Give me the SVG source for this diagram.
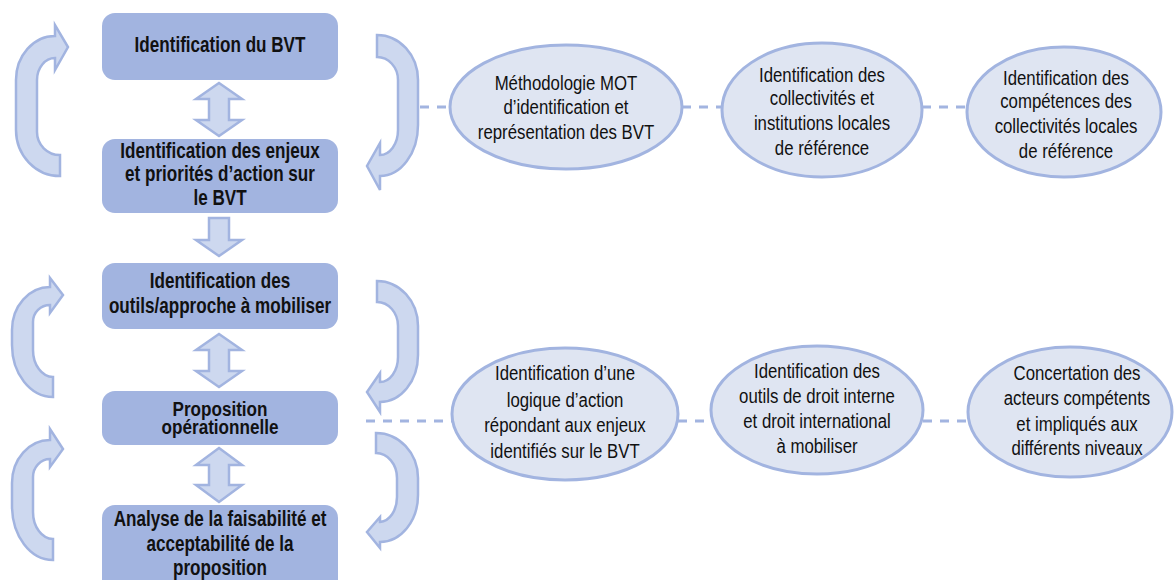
<svg xmlns="http://www.w3.org/2000/svg" width="1174" height="580" viewBox="0 0 1174 580">
<style>
.box{fill:#a2b4e0;}
.arr{fill:#cdd8ef;stroke:#a2b4e0;stroke-width:2.5;stroke-linejoin:miter;}
.ell{fill:#dfe5f2;stroke:#a2b4e0;stroke-width:3;}
.dash{stroke:#a2b4e0;stroke-width:3;stroke-dasharray:9 8;fill:none;}
.bt{font-family:'Liberation Sans',Arial,sans-serif;font-weight:bold;font-size:22.5px;fill:#111;text-anchor:middle;}
.et{font-family:'Liberation Sans',Arial,sans-serif;font-size:21px;fill:#111;text-anchor:middle;}
</style>
<rect width="1174" height="580" fill="#fff"/>
<g id="connectors">
<path class="dash" d="M420 107H452M682 107H722M922 107H967"/>
<path class="dash" d="M366 421H453M678 421H710M923 421H968"/>
<path class="arr" d="M219 83L242 99H229V120H242L219 136L196 120H209V99H196Z"/>
<path class="arr" d="M209 218H229V240H242L219 256L196 240H209Z"/>
<path class="arr" d="M219 334L242 350H229V371H242L219 387L196 371H209V350H196Z"/>
<path class="arr" d="M219 448L242 465H229V485H242L219 502L196 485H209V465H196Z"/>
<path class="arr" d="M60 155A23 23 0 0 1 37 132V80A18 22 0 0 1 55 58V70L68 47L55 25V36A39 44 0 0 0 16 80V130A44 46 0 0 0 60 176Z"/>
<path class="arr" d="M53 377A20 27 0 0 1 33 350V322A17 17 0 0 1 50 305V313L63 295L50 278V287A38 43 0 0 0 12 330V345A41 52 0 0 0 53 397Z"/>
<path class="arr" d="M53 539A20 27 0 0 1 33 512V477A17 18 0 0 1 50 459V467L63 449L50 429V440A38 43 0 0 0 12 483V506A41 54 0 0 0 53 560Z"/>
<path class="arr" d="M377 35A41 45 0 0 1 418 80V125A38 51 0 0 1 380 176V190L367 166L380 143V155A18 25 0 0 0 398 130V80A21 23 0 0 0 377 57Z"/>
<path class="arr" d="M377 281A41 45 0 0 1 418 326V355A38 47 0 0 1 380 402V412L367 392L380 373V382A18 25 0 0 0 398 357V326A21 24 0 0 0 377 302Z"/>
<path class="arr" d="M376 433A42 45 0 0 1 418 478V495A38 47 0 0 1 380 542V548L367 532L380 517V522A18 25 0 0 0 397 497V478A21 25 0 0 0 376 453Z"/>
</g>
<g id="box1"><rect class="box" x="102" y="13" width="236" height="67" rx="13"/><text class="bt" transform="matrix(0.76 0 0 1 220 52)">Identification du BVT</text></g>
<g id="box2"><rect class="box" x="102" y="139" width="236" height="74" rx="13"/><text class="bt" transform="matrix(0.76 0 0 1 220 158)">Identification des enjeux</text><text class="bt" transform="matrix(0.76 0 0 1 220 181)">et priorités d’action sur</text><text class="bt" transform="matrix(0.76 0 0 1 220 205)">le BVT</text></g>
<g id="box3"><rect class="box" x="102" y="263" width="236" height="66" rx="13"/><text class="bt" transform="matrix(0.76 0 0 1 220 288)">Identification des</text><text class="bt" transform="matrix(0.76 0 0 1 220 313)">outils/approche à mobiliser</text></g>
<g id="box4"><rect class="box" x="102" y="391" width="236" height="54" rx="13"/><text class="bt" transform="matrix(0.76 0 0 0.9 220 416)">Proposition</text><text class="bt" transform="matrix(0.76 0 0 0.9 220 434)">opérationnelle</text></g>
<g id="box5"><rect class="box" x="102" y="505" width="236" height="90" rx="13"/><text class="bt" transform="matrix(0.76 0 0 1 220 526)">Analyse de la faisabilité et</text><text class="bt" transform="matrix(0.76 0 0 1 220 551)">acceptabilité de la</text><text class="bt" transform="matrix(0.76 0 0 1 220 575)">proposition</text></g>
<g id="e1"><ellipse class="ell" cx="566" cy="107" rx="116" ry="62"/><text class="et" transform="matrix(0.8 0 0 1 566 90)">Méthodologie MOT</text><text class="et" transform="matrix(0.8 0 0 1 566 114)">d’identification et</text><text class="et" transform="matrix(0.8 0 0 1 566 139)">représentation des BVT</text></g>
<g id="e2"><ellipse class="ell" cx="822" cy="110" rx="100" ry="67"/><text class="et" transform="matrix(0.8 0 0 1 822 82)">Identification des</text><text class="et" transform="matrix(0.8 0 0 1 822 105)">collectivités et</text><text class="et" transform="matrix(0.8 0 0 1 822 130)">institutions locales</text><text class="et" transform="matrix(0.8 0 0 1 822 155)">de référence</text></g>
<g id="e3"><ellipse class="ell" cx="1064" cy="112" rx="97" ry="65"/><text class="et" transform="matrix(0.8 0 0 1 1066 85)">Identification des</text><text class="et" transform="matrix(0.8 0 0 1 1066 108)">compétences des</text><text class="et" transform="matrix(0.8 0 0 1 1066 133)">collectivités locales</text><text class="et" transform="matrix(0.8 0 0 1 1066 158)">de référence</text></g>
<g id="e4"><ellipse class="ell" cx="565" cy="414" rx="113" ry="66"/><text class="et" transform="matrix(0.8 0 0 1 565 380)">Identification d’une</text><text class="et" transform="matrix(0.8 0 0 1 565 407)">logique d’action</text><text class="et" transform="matrix(0.8 0 0 1 565 432)">répondant aux enjeux</text><text class="et" transform="matrix(0.8 0 0 1 565 458)">identifiés sur le BVT</text></g>
<g id="e5"><ellipse class="ell" cx="817" cy="410" rx="106" ry="64"/><text class="et" transform="matrix(0.8 0 0 1 817 378)">Identification des</text><text class="et" transform="matrix(0.8 0 0 1 817 403)">outils de droit interne</text><text class="et" transform="matrix(0.8 0 0 1 817 428)">et droit international</text><text class="et" transform="matrix(0.8 0 0 1 817 453)">à mobiliser</text></g>
<g id="e6"><ellipse class="ell" cx="1070" cy="412" rx="102" ry="65"/><text class="et" transform="matrix(0.8 0 0 1 1077 380)">Concertation des</text><text class="et" transform="matrix(0.8 0 0 1 1077 405)">acteurs compétents</text><text class="et" transform="matrix(0.8 0 0 1 1077 431)">et impliqués aux</text><text class="et" transform="matrix(0.8 0 0 1 1077 455)">différents niveaux</text></g>
</svg>
